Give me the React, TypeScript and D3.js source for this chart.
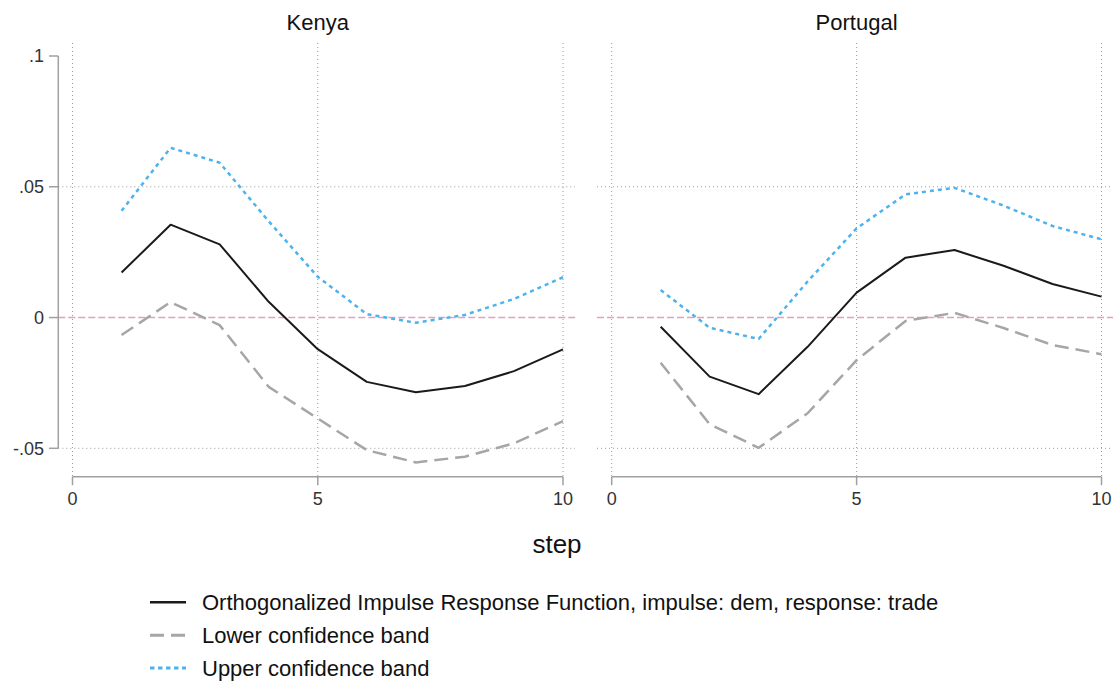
import React from "react";
import * as d3 from "d3";

const steps = [1, 2, 3, 4, 5, 6, 7, 8, 9, 10];
const panels = ["Kenya", "Portugal"];

const kenyaIrf = [0.0172, 0.0355, 0.028, 0.006, -0.0121, -0.0246, -0.0286, -0.0262, -0.0205, -0.0122];
const kenyaLower = [-0.0067, 0.0059, -0.0029, -0.0265, -0.0386, -0.0507, -0.0554, -0.0532, -0.0481, -0.0396];
const kenyaUpper = [0.0408, 0.0649, 0.0592, 0.0368, 0.0156, 0.0013, -0.002, 0.001, 0.0071, 0.0154];

const portugalIrf = [-0.0035, -0.0226, -0.0293, -0.0112, 0.0095, 0.0229, 0.0258, 0.0198, 0.0128, 0.008];
const portugalLower = [-0.0173, -0.0408, -0.0498, -0.0366, -0.0163, -0.0013, 0.0018, -0.004, -0.0105, -0.014];
const portugalUpper = [0.0105, -0.0039, -0.0082, 0.0138, 0.0341, 0.0471, 0.0496, 0.0428, 0.035, 0.0299];

const xTicks = [0, 5, 10];
const yTicks = [-0.05, 0, 0.05, 0.1];
const yGridTicks = [-0.05, 0.05];

const legendLabels = [
  "Orthogonalized Impulse Response Function, impulse: dem, response: trade",
  "Lower confidence band",
  "Upper confidence band",
];

const FONT = "'Liberation Sans', Arial, Helvetica, sans-serif";

const seriesStyles = [
  { color: "#1a1a1a", width: 2, dash: "" },
  { color: "#a6a6a6", width: 2.5, dash: "14,7" },
  { color: "#4db3ec", width: 2.5, dash: "4,4" },
];

const stataFmt = (v: number) => {
  if (v === 0) return "0";
  const s = String(+v.toFixed(4));
  return s.replace(/^(-?)0\./, "$1.");
};

export default function App() {
  const W = 1118;
  const H = 684;
  const y = d3.scaleLinear().domain([-0.05, 0.1]).range([448.3, 56]);
  const plotTop = 43;
  const plotBottom = 476.7;

  const panelDefs = [
    {
      name: panels[0],
      x: d3.scaleLinear().domain([0, 10]).range([72.5, 563]),
      region: [58.3, 575],
      series: [kenyaIrf, kenyaLower, kenyaUpper],
    },
    {
      name: panels[1],
      x: d3.scaleLinear().domain([0, 10]).range([611.7, 1101.5]),
      region: [597, 1113],
      series: [portugalIrf, portugalLower, portugalUpper],
    },
  ];

  return (
    <svg
      width={W}
      height={H}
      style={{ position: "absolute", left: 0, top: 0, background: "#fff" }}
      fontFamily={FONT}
    >
      <rect x={0} y={0} width={W} height={H} fill="#fff" />
      {panelDefs.map((p, pi) => {
        const line = d3
          .line<number>()
          .x((_, i) => p.x(steps[i]))
          .y((d) => y(d));
        const cx = (p.x(0) + p.x(10)) / 2;
        return (
          <g key={p.name}>
            <text x={cx} y={29.5} textAnchor="middle" fontSize={22} fill="#111">
              {p.name}
            </text>
            {xTicks.map((t) => (
              <line
                key={"vg" + t}
                x1={p.x(t)}
                x2={p.x(t)}
                y1={plotTop}
                y2={plotBottom}
                stroke="#9a9a9a"
                strokeWidth={1}
                strokeDasharray="1,3"
              />
            ))}
            {yGridTicks.map((t) => (
              <line
                key={"hg" + t}
                x1={p.region[0]}
                x2={p.region[1]}
                y1={y(t)}
                y2={y(t)}
                stroke="#9a9a9a"
                strokeWidth={1}
                strokeDasharray="1,3"
              />
            ))}
            <line
              x1={p.region[0]}
              x2={p.region[1]}
              y1={y(0)}
              y2={y(0)}
              stroke="#e4a1bf"
              strokeWidth={1.5}
              strokeDasharray="7,3"
            />
            {p.series.map((s, si) => (
              <path
                key={si}
                d={line(s) || ""}
                fill="none"
                stroke={seriesStyles[si].color}
                strokeWidth={seriesStyles[si].width}
                strokeDasharray={seriesStyles[si].dash || undefined}
                strokeLinejoin="round"
              />
            ))}
            <line
              x1={p.x(0)}
              x2={p.x(10)}
              y1={plotBottom}
              y2={plotBottom}
              stroke="#a0a0a0"
              strokeWidth={1.5}
            />
            {xTicks.map((t) => (
              <g key={"xt" + t}>
                <line
                  x1={p.x(t)}
                  x2={p.x(t)}
                  y1={plotBottom}
                  y2={plotBottom + 8.5}
                  stroke="#a0a0a0"
                  strokeWidth={1.5}
                />
                <text x={p.x(t)} y={505} textAnchor="middle" fontSize={18} fill="#333">
                  {t}
                </text>
              </g>
            ))}
            {pi === 0 && (
              <g>
                <line
                  x1={58.3}
                  x2={58.3}
                  y1={y(0.1)}
                  y2={y(-0.05)}
                  stroke="#a0a0a0"
                  strokeWidth={1.5}
                />
                {yTicks.map((t) => (
                  <g key={"yt" + t}>
                    <line x1={49} x2={58.3} y1={y(t)} y2={y(t)} stroke="#a0a0a0" strokeWidth={1.5} />
                    <text
                      x={44}
                      y={y(t)}
                      dy="0.35em"
                      textAnchor="end"
                      fontSize={18}
                      fill="#333"
                    >
                      {stataFmt(t)}
                    </text>
                  </g>
                ))}
              </g>
            )}
          </g>
        );
      })}
      <text x={557} y={553} textAnchor="middle" fontSize={26} fill="#111">
        step
      </text>
      {legendLabels.map((lab, i) => {
        const cy = 602.3 + i * 32.9;
        const st = seriesStyles[i];
        return (
          <g key={lab}>
            <line
              x1={150}
              x2={186}
              y1={cy}
              y2={cy}
              stroke={st.color}
              strokeWidth={st.width + 0.5}
              strokeDasharray={i === 1 ? "14,7" : i === 2 ? "4.5,3.5" : undefined}
            />
            <text x={202} y={cy} dy="0.36em" fontSize={22} fill="#111">
              {lab}
            </text>
          </g>
        );
      })}
    </svg>
  );
}
